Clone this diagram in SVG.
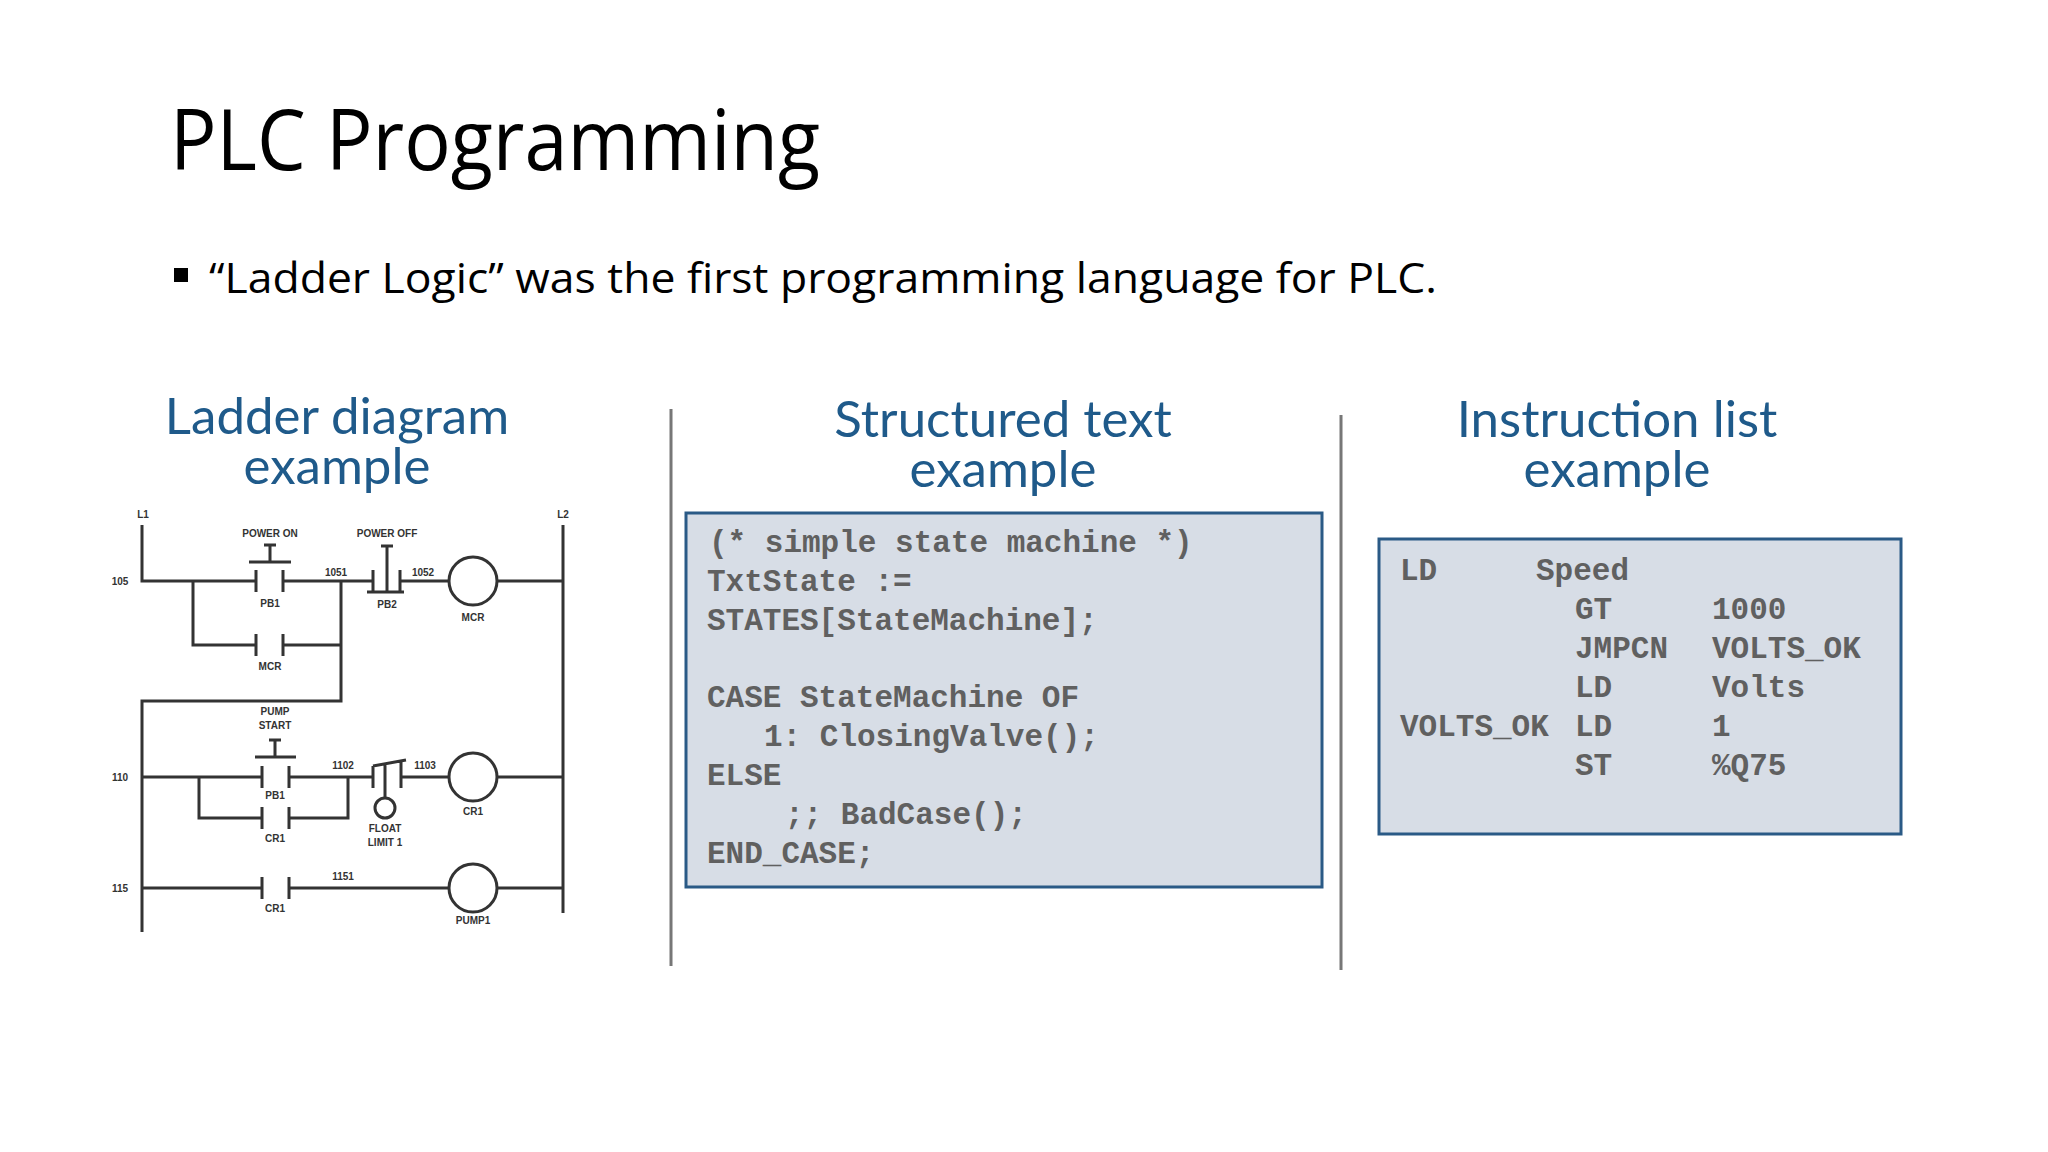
<svg xmlns="http://www.w3.org/2000/svg" width="2048" height="1152" viewBox="0 0 2048 1152">
<style>
.h{font-family:Lato,"Open Sans",sans-serif;font-size:51px;fill:#1f5a8a;text-anchor:middle}
.m{font-family:"Liberation Mono",monospace;font-size:31px;fill:#606060;font-weight:bold}
.w{stroke:#333;stroke-width:3;fill:none}
.c{stroke:#333;stroke-width:3;fill:none}
.t{font-family:"Liberation Sans",Arial,sans-serif;font-size:10px;font-weight:bold;fill:#333;text-anchor:middle}
.box{fill:#d7dde6;stroke:#2a5a86;stroke-width:3}
.div{stroke:#777;stroke-width:3}
</style>
<rect width="2048" height="1152" fill="#fff"/>
<g id="title"><text x="170" y="170" font-family="Open Sans,sans-serif" font-size="84" fill="#000" textLength="650" lengthAdjust="spacingAndGlyphs">PLC Programming</text></g>
<g id="bullet"><rect x="174" y="268" width="14" height="14" fill="#000"/><text x="209" y="293" font-family="Open Sans,sans-serif" font-size="42" fill="#000" textLength="1228" lengthAdjust="spacingAndGlyphs">“Ladder Logic” was the first programming language for PLC.</text></g>
<g id="dividers"><line class="div" x1="671" y1="409" x2="671" y2="966"/><line class="div" x1="1341" y1="415" x2="1341" y2="970"/></g>
<g id="heading-ladder"><text class="h" x="337" y="434">Ladder diagram</text><text class="h" x="337" y="484">example</text></g>
<g id="heading-st"><text class="h" x="1003" y="437">Structured text</text><text class="h" x="1003" y="487">example</text></g>
<g id="heading-il"><text class="h" x="1617" y="437">Instruction list</text><text class="h" x="1617" y="487">example</text></g>
<g id="st-box"><rect class="box" x="686" y="513" width="636" height="374"/>
<text class="m" x="709" y="552">(* simple state machine *)</text>
<text class="m" x="707" y="591">TxtState :=</text>
<text class="m" x="707" y="630">STATES[StateMachine];</text>
<text class="m" x="707" y="707">CASE StateMachine OF</text>
<text class="m" x="764" y="746">1: ClosingValve();</text>
<text class="m" x="707" y="785">ELSE</text>
<text class="m" x="785" y="824">;; BadCase();</text>
<text class="m" x="707" y="863">END_CASE;</text></g>
<g id="il-box"><rect class="box" x="1379" y="539" width="522" height="295"/>
<text class="m" x="1400" y="580">LD</text><text class="m" x="1536" y="580">Speed</text>
<text class="m" x="1575" y="619">GT</text><text class="m" x="1712" y="619">1000</text>
<text class="m" x="1575" y="658">JMPCN</text><text class="m" x="1712" y="658">VOLTS_OK</text>
<text class="m" x="1575" y="697">LD</text><text class="m" x="1712" y="697">Volts</text>
<text class="m" x="1400" y="736">VOLTS_OK</text><text class="m" x="1575" y="736">LD</text><text class="m" x="1712" y="736">1</text>
<text class="m" x="1575" y="775">ST</text><text class="m" x="1712" y="775">%Q75</text></g>
<g id="ladder">
<g id="connectors">
<path class="w" d="M142 525V581H256M283 581H373M400 581H448M498 581H563M563 525V913"/>
<path class="w" d="M193 581V645H256M283 645H341V581M341 645V701H142V932"/>
<path class="w" d="M142 777H262M289 777H373M401 777H448M498 777H563M199 777V818H262M289 818H348V777"/>
<path class="w" d="M142 888H262M289 888H448M498 888H563"/>
</g>
<text class="t" x="143" y="518">L1</text><text class="t" x="563" y="518">L2</text>
<text class="t" x="120" y="585">105</text><text class="t" x="120" y="781">110</text><text class="t" x="120" y="892">115</text>
<g id="pb1"><path class="c" d="M256 570V592M283 570V592M249 562H291M270 562V545M264 545H276"/><text class="t" x="270" y="537">POWER ON</text><text class="t" x="270" y="607">PB1</text></g>
<g id="mcr-contact"><path class="c" d="M256 634V656M283 634V656"/><text class="t" x="270" y="670">MCR</text></g>
<g id="pb2"><path class="c" d="M373 570V592M400 570V592M367 592H404M387 592V546M381 546H393"/><text class="t" x="387" y="537">POWER OFF</text><text class="t" x="387" y="608">PB2</text></g>
<text class="t" x="336" y="576">1051</text><text class="t" x="423" y="576">1052</text>
<g id="mcr-coil"><circle class="c" cx="473" cy="581" r="24"/><text class="t" x="473" y="621">MCR</text></g>
<g id="pb1b"><path class="c" d="M262 766V788M289 766V788M255 757H296M275 757V740M269 740H281"/><text class="t" x="275" y="715">PUMP</text><text class="t" x="275" y="729">START</text><text class="t" x="275" y="799">PB1</text></g>
<g id="cr1-contact-a"><path class="c" d="M262 807V829M289 807V829"/><text class="t" x="275" y="842">CR1</text></g>
<text class="t" x="343" y="769">1102</text><text class="t" x="425" y="769">1103</text>
<g id="float"><path class="c" d="M373 766V788M401 762V788M373 766L406 760M385 764V798"/><circle class="c" cx="385" cy="808" r="10"/><text class="t" x="385" y="832">FLOAT</text><text class="t" x="385" y="846">LIMIT 1</text></g>
<g id="cr1-coil"><circle class="c" cx="473" cy="777" r="24"/><text class="t" x="473" y="815">CR1</text></g>
<g id="cr1-contact-b"><path class="c" d="M262 877V899M289 877V899"/><text class="t" x="275" y="912">CR1</text><text class="t" x="343" y="880">1151</text></g>
<g id="pump1"><circle class="c" cx="473" cy="888" r="24"/><text class="t" x="473" y="924">PUMP1</text></g>
</g>
</svg>
